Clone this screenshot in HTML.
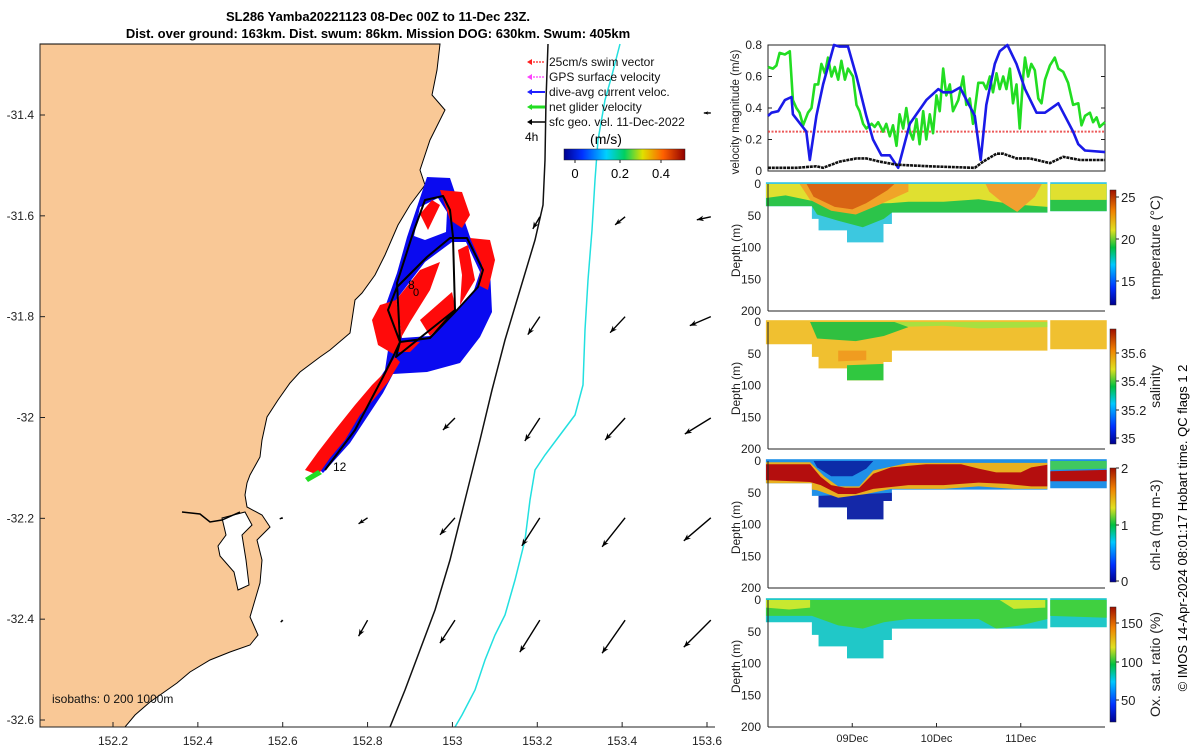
<!DOCTYPE html>
<html><head><meta charset="utf-8"><style>
html,body{margin:0;padding:0;background:#fff}
svg{display:block;font-family:"Liberation Sans",sans-serif}
</style></head><body>
<svg id="s" width="1200" height="750" viewBox="0 0 1200 750" xmlns="http://www.w3.org/2000/svg">
<defs>
<linearGradient id="jetH" x1="0" x2="1" y1="0" y2="0">
<stop offset="0" stop-color="#00008f"/><stop offset="0.15" stop-color="#0030ff"/><stop offset="0.35" stop-color="#00d0ff"/><stop offset="0.5" stop-color="#00d060"/><stop offset="0.65" stop-color="#e0e000"/><stop offset="0.82" stop-color="#ff6000"/><stop offset="1" stop-color="#900000"/></linearGradient>
<linearGradient id="jetV" x1="0" x2="0" y1="1" y2="0">
<stop offset="0" stop-color="#00008f"/><stop offset="0.15" stop-color="#0030ff"/><stop offset="0.35" stop-color="#00c8ff"/><stop offset="0.5" stop-color="#00c040"/><stop offset="0.65" stop-color="#e0e020"/><stop offset="0.82" stop-color="#f08000"/><stop offset="1" stop-color="#a01000"/></linearGradient>
</defs>
<g font-weight="bold" font-size="13" text-anchor="middle">
<text x="378" y="21">SL286 Yamba20221123 08-Dec 00Z to 11-Dec 23Z.</text>
<text x="378" y="38">Dist. over ground: 163km. Dist. swum: 86km. Mission DOG: 630km. Swum: 405km</text>
</g>
<g id="map"></g>
<g id="vel"></g>
<g id="depth"></g>
<text transform="translate(1187,528) rotate(-90)" font-size="13" text-anchor="middle">© IMOS 14-Apr-2024 08:01:17 Hobart time. QC flags 1  2</text>
</svg>
<script>
const NS='http://www.w3.org/2000/svg';
function mk(p,tag,at,txt){const e=document.createElementNS(NS,tag);for(const k in at)e.setAttribute(k,at[k]);if(txt!==undefined)e.textContent=txt;p.appendChild(e);return e;}

// ---------- velocity data ----------
const greenT=[0,1.4,2.4,3.3,4.8,6.2,7.1,8.1,9.0,10.0,11.4,12.4,13.3,14.3,15.2,16.2,17.1,18.1,19.0,20.0,20.9,21.9,22.8,24.2,25.2,26.1,27.1,28.0,29.5,30.4,31.4,32.8,33.7,34.7,35.6,36.6,37.5,38.5,39.4,40.4,41.3,42.3,43.2,44.2,45.1,46.1,47.0,48.0,48.9,49.9,50.8,51.8,52.7,54.2,55.6,56.5,57.5,58.4,59.9,61.3,62.2,63.2,64.1,65.1,66.0,67.0,67.9,68.9,69.8,70.8,71.7,72.7,73.2,74.1,75.0,76.0,77.0,77.9,78.9,80.3,81.7,82.7,84.1,85.5,86.9,88.4,89.3,90.3,91.7,92.6,93.6,94.5,96];
const greenV=[0.66,0.65,0.67,0.75,0.74,0.76,0.45,0.40,0.37,0.29,0.37,0.40,0.55,0.55,0.68,0.62,0.72,0.60,0.66,0.58,0.70,0.58,0.65,0.60,0.42,0.38,0.30,0.27,0.30,0.28,0.31,0.25,0.30,0.22,0.29,0.16,0.36,0.27,0.40,0.25,0.20,0.33,0.17,0.38,0.20,0.36,0.24,0.48,0.38,0.65,0.48,0.55,0.38,0.45,0.60,0.42,0.46,0.30,0.56,0.56,0.52,0.60,0.50,0.62,0.52,0.60,0.52,0.65,0.43,0.55,0.27,0.60,0.72,0.60,0.68,0.64,0.46,0.43,0.58,0.67,0.72,0.65,0.63,0.56,0.42,0.43,0.29,0.35,0.37,0.31,0.34,0.28,0.31];
const blueT=[0,1,2.9,4.8,6.7,7.1,10.9,11.9,13.8,15.7,18.8,20.4,22.8,25.2,28.0,29.9,32.3,34.7,37.1,40.4,45.1,48.5,49.9,52.3,54.7,58.9,60.6,62.2,64.6,66.0,68.2,70.8,73.2,76.5,78.9,82.7,86.9,88.4,90.3,96];
const blueV=[0.35,0.37,0.38,0.45,0.47,0.36,0.25,0.07,0.35,0.55,0.80,0.79,0.79,0.60,0.35,0.20,0.10,0.10,0.02,0.30,0.45,0.52,0.50,0.50,0.53,0.35,0.07,0.42,0.68,0.76,0.80,0.68,0.52,0.37,0.37,0.43,0.25,0.17,0.13,0.12];
const blackT=[0,8.1,13.8,15.7,20.4,25.2,28.0,31.8,36.6,46.1,58.9,61.3,65.1,67.0,70.8,74.6,80.3,84.1,88.9,96];
const blackV=[0.02,0.02,0.03,0.02,0.06,0.08,0.08,0.06,0.04,0.03,0.02,0.06,0.11,0.11,0.08,0.08,0.05,0.09,0.07,0.07];
const swimV=[0.25];
const velTicks=[0,0.2,0.4,0.6,0.8];
const dayTicks=['09Dec','10Dec','11Dec'];
const dayHours=[24,48,72];

const PX0=768,PX1=1105;
const tx=t=>PX0+t*(PX1-PX0)/96;
const vy=v=>171-v*(171-45)/0.8;

(function(){
const g=document.getElementById('vel');
const fr=mk(g,'rect',{x:PX0,y:45,width:PX1-PX0,height:126,fill:'#fff',stroke:'#222','stroke-width':1});

velTicks.forEach(v=>{
 const t=mk(g,'text',{x:PX0-6,y:vy(v)+4,'font-size':12,'text-anchor':'end',fill:'#222'},String(v));
 
 mk(g,'line',{x1:PX0,x2:PX0+4,y1:vy(v),y2:vy(v),stroke:'#222'});
 mk(g,'line',{x1:PX1-4,x2:PX1,y1:vy(v),y2:vy(v),stroke:'#222'});
});
const yl=mk(g,'text',{transform:'translate(739,112) rotate(-90)','font-size':11.5,'text-anchor':'middle',fill:'#222'},'velocity magnitude (m/s)');

const s1=mk(g,'line',{x1:tx(0),x2:tx(79.3),y1:vy(swimV[0]),y2:vy(swimV[0]),stroke:'#e83030','stroke-width':2,'stroke-dasharray':'2 1.5',opacity:0.8});

const s2=mk(g,'line',{x1:tx(80.2),x2:tx(96),y1:vy(swimV[0]),y2:vy(swimV[0]),stroke:'#e83030','stroke-width':2,'stroke-dasharray':'2 1.5',opacity:0.8});

const pl=(T,V)=>T.map((t,i)=>tx(t).toFixed(1)+','+vy(V[i]).toFixed(1)).join(' ');
const gl=mk(g,'polyline',{points:pl(greenT,greenV),fill:'none',stroke:'#22dd22','stroke-width':2.6,'stroke-linejoin':'round'});

const bl=mk(g,'polyline',{points:pl(blueT,blueV),fill:'none',stroke:'#1a1ae8','stroke-width':2.6,'stroke-linejoin':'round'});

const kl=mk(g,'polyline',{points:pl(blackT,blackV),fill:'none',stroke:'#111','stroke-width':2.6,'stroke-dasharray':'3 0.8'});

})();

// ---------- depth panels ----------
const coverage=[[-0.6,12.5,35],[12.5,14.4,55],[14.4,22.5,73],[22.5,32.9,92],[32.9,35.3,63],[35.3,79.6,45],[80.4,96.5,43]];
const depthTicks=[0,50,100,150,200];
const panels=[
 {name:'temperature',y0:184,label:'temperature (°C)',cb:[190,305],cbTicks:[[25,197],[20,239],[15,281]],base:'#3cc8e0',layers:[
  ['#2cc44a',[[-0.6,0],[96.5,0],[96.5,43],[80.4,43],[79.6,45],[35.3,45],[33,55],[27,68],[20,58],[14,48],[12.5,35],[-0.6,35]]],
  ['#e0e030',[[-0.6,0],[96.5,0],[96.5,25],[80.4,25],[79.6,36],[70,32],[60,24],[50,28],[40,28],[35,30],[20,32],[12,26],[5,18],[-0.6,22]]],
  ['#f0a428',[[9,0],[40,0],[40,12],[32,32],[25,48],[18,42],[12,25]]],
  ['#d86414',[[11,0],[36,0],[34,10],[28,30],[24,40],[19,36],[13,20]]],
  ['#f0a030',[[62,0],[78,0],[76,20],[71,44],[67,30],[63,12]]]]},
 {name:'salinity',y0:322,label:'salinity',cb:[329,444],cbTicks:[[35.6,353],[35.4,381],[35.2,410],[35,438]],base:'#f0c030',layers:[
  ['#a8e040',[[35,0],[79.6,0],[79.6,8],[60,10],[50,6],[35,8]]],
  ['#30c040',[[12,0],[36,0],[40,8],[33,22],[25,30],[14,26]]],
  ['#30c840',[[22.5,68],[32.9,66],[32.9,92],[22.5,92]]],
  ['#f09c20',[[20,45],[28,45],[28,60],[20,62]]]]},
 {name:'chl-a',y0:461,label:'chl-a (mg m-3)',cb:[468,582],cbTicks:[[2,468],[1,525],[0,581]],base:'#2090e8',layers:[
  ['#1428a8',[[14.4,55],[35.3,50],[35.3,63],[32.9,63],[32.9,92],[22.5,92],[22.5,73],[14.4,73]]],
  ['#40c860',[[80.4,0],[96.5,0],[96.5,12],[80.4,14]]],
  ['#e8b020',[[-0.6,2],[12,2],[16,24],[20,40],[26,40],[30,15],[40,3],[79.6,3],[79.6,44],[70,44],[60,40],[50,44],[35,44],[28,52],[20,58],[14,46],[-0.6,35]]],
  ['#b40e0e',[[-0.6,5],[12,5],[15,25],[18,38],[22,42],[26,42],[30,20],[35,10],[45,5],[55,5],[60,12],[65,18],[72,18],[75,10],[79.6,6],[79.6,40],[75,40],[68,36],[60,34],[50,38],[40,38],[30,44],[25,52],[20,52],[15,38],[12,33],[-0.6,30]]],
  ['#b40e0e',[[80.4,16],[96.5,14],[96.5,32],[80.4,32]]],
  ['#0c2ca8',[[13,0],[30,0],[28,12],[24,24],[18,24],[14,10]]]]},
 {name:'oxygen-saturation',y0:600,label:'Ox. sat. ratio (%)',cb:[607,722],cbTicks:[[150,623],[100,662],[50,700]],base:'#20c8c8',layers:[
  ['#40d040',[[-0.6,0],[96.5,0],[96.5,28],[80.4,25],[79.6,30],[72,40],[65,45],[60,30],[40,30],[33,35],[27,45],[20,40],[12.5,25],[-0.6,25]]],
  ['#c8e830',[[-0.6,0],[12,0],[12,12],[6,15],[-0.6,12]]],
  ['#c8e830',[[66,0],[79,0],[79,12],[70,14]]]]}
];
(function(){
const g=document.getElementById('depth');
panels.forEach(p=>{
 const dy=d=>p.y0+d*127/200;
 const pg=mk(g,'g',{});
 
 const clipId='clip-'+p.name;
 const cp=mk(pg,'clipPath',{id:clipId});
 coverage.forEach(c=>{mk(cp,'rect',{x:tx(c[0]),y:dy(-3),width:tx(c[1])-tx(c[0]),height:dy(c[2])-dy(-3)});});
 const dg=mk(pg,'g',{'clip-path':'url(#'+clipId+')'});
 
 mk(dg,'rect',{x:PX0-3,y:dy(-3),width:345,height:80,fill:p.base});
 p.layers.forEach(L=>{mk(dg,'polygon',{points:L[1].map(q=>tx(q[0]).toFixed(1)+','+dy(q[1]).toFixed(1)).join(' '),fill:L[0]});});
 mk(pg,'line',{x1:PX0,x2:PX1,y1:dy(200),y2:dy(200),stroke:'#222'});
 mk(pg,'line',{x1:PX0,x2:PX0,y1:dy(0),y2:dy(200),stroke:'#222'});
 depthTicks.forEach(d=>{
  const t=mk(pg,'text',{x:PX0-7,y:dy(d)+4,'font-size':12,'text-anchor':'end',fill:'#222'},String(d));
  
 });
 const yl=mk(pg,'text',{transform:'translate(740,'+(dy(100)+3)+') rotate(-90)','font-size':12,'text-anchor':'middle',fill:'#222'},'Depth (m)');
 
 const cb=mk(pg,'rect',{x:1110,y:p.cb[0],width:6,height:p.cb[1]-p.cb[0],fill:'url(#jetV)',stroke:'#222','stroke-width':0.5});
 
 p.cbTicks.forEach(k=>{
  mk(pg,'line',{x1:1116,x2:1119,y1:k[1],y2:k[1],stroke:'#222'});
  const t=mk(pg,'text',{x:1121,y:k[1]+5,'font-size':13,fill:'#222'},String(k[0]));
  
 });
 const cl=mk(pg,'text',{transform:'translate(1160,'+((p.cb[0]+p.cb[1])/2)+') rotate(-90)','font-size':14,'text-anchor':'middle',fill:'#222'},p.label);
 
});
dayTicks.forEach((d,i)=>{
 mk(g,'line',{x1:tx(dayHours[i]),x2:tx(dayHours[i]),y1:727,y2:723,stroke:'#222'});
 const t=mk(g,'text',{x:tx(dayHours[i]),y:742,'font-size':11,'text-anchor':'middle',fill:'#222'},d);
 
});
})();

// ---------- map ----------
const lonTicks=[152.2,152.4,152.6,152.8,153,153.2,153.4,153.6];
const latTicks=[-31.4,-31.6,-31.8,-32,-32.2,-32.4,-32.6];
// geostrophic arrows: tail lon/lat, u/v (m/s)
const arrowsLon=[153.609,153.206,153.407,153.609,153.206,153.407,153.609,153.006,153.206,153.407,153.609,152.80,153.006,153.206,153.407,153.609,152.80,153.006,153.206,153.407,153.609,152.60,152.60];
const arrowsLat=[-31.396,-31.602,-31.602,-31.602,-31.80,-31.80,-31.80,-32.001,-32.001,-32.001,-32.001,-32.199,-32.199,-32.199,-32.199,-32.199,-32.402,-32.402,-32.402,-32.402,-32.402,-32.199,-32.402];
const arrowsU=[-0.07,-0.07,-0.10,-0.14,-0.12,-0.15,-0.21,-0.12,-0.15,-0.20,-0.26,-0.09,-0.15,-0.18,-0.23,-0.27,-0.09,-0.15,-0.20,-0.23,-0.27,-0.03,-0.02];
const arrowsV=[0.0,-0.12,-0.08,-0.03,-0.18,-0.16,-0.09,-0.12,-0.23,-0.22,-0.16,-0.06,-0.17,-0.28,-0.29,-0.23,-0.16,-0.23,-0.32,-0.33,-0.27,-0.01,-0.02];
const ARROW_SCALE=100;
const mx=lon=>113+(lon-152.2)*(707-113)/1.4;
const my=lat=>115+(-31.4-lat)*(720-115)/1.2;
(function(){
const g=document.getElementById('map');
const land=mk(g,'polygon',{points:'40,44 440,44 437,70 432,95 445,110 430,140 420,170 425,185 410,205 398,225 385,255 375,275 362,293 355,300 350,333 330,350 320,357 300,372 290,383 278,400 267,417 262,440 260,457 250,475 247,483 245,495 247,507 262,515 270,527 262,535 257,540 262,560 260,583 255,600 250,617 258,635 250,645 230,652 210,660 190,672 177,683 160,695 150,702 135,715 125,727 40,727',fill:'#f9c896',stroke:'#000','stroke-width':1});

const est=mk(g,'polygon',{points:'222,518 245,512 252,525 242,535 246,560 249,585 238,590 234,572 220,556 218,546 226,535',fill:'#fff',stroke:'#000','stroke-width':1});

mk(g,'polyline',{points:'182,512 200,514 210,522 222,520 240,512',fill:'none',stroke:'#000','stroke-width':1.5});
const iso1=mk(g,'polyline',{points:'548,44 546,100 545,160 543,205 535,240 520,290 505,340 492,390 480,440 465,500 450,560 435,610 420,650 405,690 390,727',fill:'none',stroke:'#111','stroke-width':1.5});

const iso2=mk(g,'polyline',{points:'620,44 612,75 605,100 598,140 595,180 592,230 588,280 585,330 583,385 575,415 560,435 545,455 535,470 530,500 525,540 515,580 505,615 495,635 485,660 475,690 462,715 455,727',fill:'none',stroke:'#22e0e0','stroke-width':1.5});

const tg=mk(g,'g',{});
mk(tg,'polygon',{points:'427,177 450,178 470,237 490,270 492,312 480,337 460,363 427,372 393,374 383,393 350,443 323,473 318,468 345,430 385,370 390,337 384,310 397,273 407,237',fill:'#0a0af0'});
mk(tg,'polygon',{points:'396,300 425,262 452,242 466,242 480,272 474,290 456,312 430,336 402,338',fill:'#fff'});
mk(tg,'polygon',{points:'420,207 438,198 447,212 446,232 425,240 414,236',fill:'#fff'});
const red='#ff0a0a';
[['440,190 462,192 470,215 462,228 450,220'],['470,238 490,240 495,260 488,290 478,285 482,265'],['396,300 420,270 440,262 430,290 410,322 402,336'],['420,320 452,292 456,310 430,336'],['380,305 396,300 402,336 395,355 378,345 372,320'],['420,214 432,200 440,205 428,230'],['305,470 318,452 335,430 355,405 372,385 385,372 395,357 400,362 388,382 375,398 360,415 345,440 330,458 318,475'],['458,250 468,245 475,280 460,305 462,275'],['398,342 420,342 410,352 396,352']].forEach(a=>mk(tg,'polygon',{points:a[0],fill:red}));
mk(tg,'polygon',{points:'305,478 318,470 322,474 308,482',fill:'#22dd22'});
const trackPts='325,470 355,430 383,377 393,357 400,342 397,283 413,233 425,200 443,196 450,210 453,237 455,310 430,338 400,342 388,310 397,287 427,257 450,238 467,238 483,270 478,287 457,310 430,338 400,342 396,357 455,310';
const tr=mk(tg,'polyline',{points:trackPts,fill:'none',stroke:'#000','stroke-width':2,'stroke-linejoin':'round'});

mk(tg,'text',{x:408,y:289,'font-size':12},'8');
mk(tg,'text',{x:413,y:296,'font-size':11},'0');
const l12=mk(tg,'text',{x:333,y:471,'font-size':12},'12');

arrowsLon.forEach((lon,i)=>{
 const x=mx(lon),y=my(arrowsLat[i]),dx=arrowsU[i]*ARROW_SCALE,dy=-arrowsV[i]*ARROW_SCALE;
 const a=mk(g,'g',{});
 
 mk(a,'line',{x1:x,y1:y,x2:x+dx,y2:y+dy,stroke:'#000','stroke-width':1.4});
 const L=Math.hypot(dx,dy)||1,ux=dx/L,uy=dy/L,h=Math.min(7,L*0.35+2);
 const hx=x+dx,hy=y+dy;
 const pts=[[hx,hy],[hx-ux*h-uy*h*0.4,hy-uy*h+ux*h*0.4],[hx-ux*h*0.7,hy-uy*h*0.7],[hx-ux*h+uy*h*0.4,hy-uy*h-ux*h*0.4]];
 mk(a,'polygon',{points:pts.map(q=>q[0].toFixed(1)+','+q[1].toFixed(1)).join(' '),fill:'#000'});
});
mk(g,'line',{x1:40,x2:40,y1:44,y2:727,stroke:'#222'});
mk(g,'line',{x1:40,x2:715,y1:727,y2:727,stroke:'#222'});
lonTicks.forEach(v=>{
 mk(g,'line',{x1:mx(v),x2:mx(v),y1:727,y2:722,stroke:'#222'});
 const t=mk(g,'text',{x:mx(v),y:745,'font-size':12,'text-anchor':'middle',fill:'#222'},String(v));
 
});
latTicks.forEach(v=>{
 mk(g,'line',{x1:40,x2:45,y1:my(v),y2:my(v),stroke:'#222'});
 const t=mk(g,'text',{x:34,y:my(v)+4,'font-size':12,'text-anchor':'end',fill:'#222'},String(v));
 
});
const ib=mk(g,'text',{x:52,y:703,'font-size':12,fill:'#111','xml:space':'preserve'},'isobaths: 0   200  1000m');

const lg=mk(g,'g',{});
const items=[['25cm/s swim vector','#ff2020',1.2],['GPS surface velocity','#ff40ff',1.2],['dive-avg current veloc.','#2020ff',2],['net glider velocity','#22dd22',3],['sfc geo. vel. 11-Dec-2022','#000',1.5]];
items.forEach((it,i)=>{
 const y=62+i*15;
 const e=mk(lg,'g',{});
 
 mk(e,'line',{x1:530,x2:545,y1:y,y2:y,stroke:it[1],'stroke-width':it[2],'stroke-dasharray':i<2?'2 1':'none'});
 mk(e,'polygon',{points:(527)+','+y+' '+(532)+','+(y-3)+' '+(532)+','+(y+3),fill:it[1]});
 mk(e,'text',{x:549,y:y+4,'font-size':12,fill:'#111'},it[0]);
});
mk(lg,'text',{x:525,y:141,'font-size':12},'4h');
mk(lg,'text',{x:606,y:144,'font-size':14,'text-anchor':'middle'},'(m/s)');
const mcb=mk(lg,'rect',{x:564,y:149,width:121,height:11,fill:'url(#jetH)',stroke:'#222','stroke-width':0.5});

[['0',575],['0.2',620],['0.4',661]].forEach(k=>{
 mk(lg,'line',{x1:k[1],x2:k[1],y1:160,y2:163,stroke:'#222'});
 mk(lg,'text',{x:k[1],y:178,'font-size':13,'text-anchor':'middle'},k[0]);
});
})();
</script>
</body></html>
